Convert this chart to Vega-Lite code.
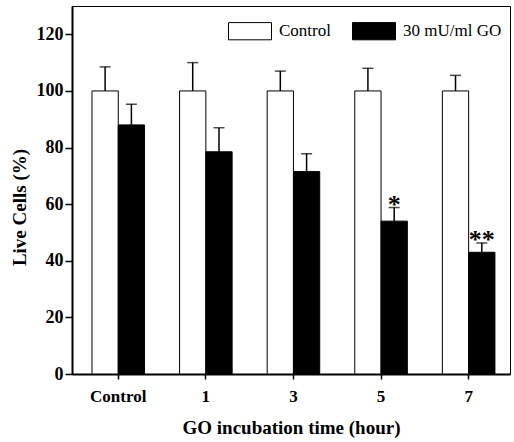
{
  "$schema": "https://vega.github.io/schema/vega-lite/v6.json",
  "autosize": "none",
  "padding": {"left": 72, "top": 6, "right": 4, "bottom": 68},
  "width": 438,
  "height": 368,
  "background": "white",
  "config": {
    "view": {"stroke": "black", "strokeWidth": 1},
    "font": "Liberation Serif",
    "axis": {
      "domainColor": "black", "domainWidth": 2,
      "tickColor": "black", "tickWidth": 1.5,
      "labelColor": "black", "titleColor": "black",
      "labelFont": "Liberation Serif", "titleFont": "Liberation Serif",
      "labelFontWeight": "bold", "titleFontWeight": "bold",
      "grid": false
    }
  },
  "data": {
    "values": [
      {"time": "Control", "group": "Control", "value": 100, "err": 108.5, "sig": ""},
      {"time": "Control", "group": "30 mU/ml GO", "value": 88, "err": 95.3, "sig": ""},
      {"time": "1", "group": "Control", "value": 100, "err": 110, "sig": ""},
      {"time": "1", "group": "30 mU/ml GO", "value": 78.5, "err": 87, "sig": ""},
      {"time": "3", "group": "Control", "value": 100, "err": 107, "sig": ""},
      {"time": "3", "group": "30 mU/ml GO", "value": 71.5, "err": 77.8, "sig": ""},
      {"time": "5", "group": "Control", "value": 100, "err": 108, "sig": ""},
      {"time": "5", "group": "30 mU/ml GO", "value": 54, "err": 58.8, "sig": "*"},
      {"time": "7", "group": "Control", "value": 100, "err": 105.5, "sig": ""},
      {"time": "7", "group": "30 mU/ml GO", "value": 43, "err": 46.3, "sig": "**"}
    ]
  },
  "encoding": {
    "x": {
      "field": "time", "type": "nominal",
      "scale": {"domain": ["Control", "1", "3", "5", "7"], "paddingInner": 0.4, "paddingOuter": 0.2, "align": 0.57},
      "axis": {
        "title": "GO  incubation time (hour)", "labelAngle": 0,
        "labelFontSize": 17, "titleFontSize": 19,
        "tickSize": 5, "labelPadding": 9, "titlePadding": 14
      }
    },
    "xOffset": {
      "field": "group", "type": "nominal",
      "scale": {"domain": ["Control", "30 mU/ml GO"], "paddingInner": 0, "paddingOuter": 0}
    }
  },
  "layer": [
    {
      "mark": {"type": "bar", "stroke": "black", "strokeWidth": 1},
      "encoding": {
        "y": {
          "field": "value", "type": "quantitative",
          "scale": {"domain": [0, 130], "nice": false},
          "axis": {
            "title": "Live Cells (%)",
            "values": [0, 10, 20, 30, 40, 50, 60, 70, 80, 90, 100, 110, 120],
            "labelExpr": "datum.value % 20 == 0 ? datum.label : ''",
            "tickSize": {"condition": {"test": "datum.value % 20 != 0", "value": 4}, "value": 7},
            "labelFontSize": 18, "labelPadding": 2,
            "titleFontSize": 19, "titleX": -47, "titleY": 201,
            "titleBaseline": "alphabetic", "titleAlign": "center", "titleAngle": -90
          }
        },
        "fill": {
          "field": "group", "type": "nominal",
          "scale": {"domain": ["Control", "30 mU/ml GO"], "range": ["white", "black"]},
          "legend": {
            "title": null, "orient": "none", "direction": "horizontal",
            "legendX": 156, "legendY": 3, "padding": 0,
            "symbolType": "M-1,-0.4L1,-0.4L1,0.4L-1,0.4Z",
            "symbolSize": 1849, "symbolStrokeColor": "black", "symbolStrokeWidth": 1,
            "labelFont": "Liberation Serif", "labelFontSize": 17, "labelColor": "black",
            "labelOffset": 7, "columnPadding": 19
          }
        }
      }
    },
    {
      "mark": {"type": "rule", "color": "black", "strokeWidth": 1.5},
      "encoding": {
        "y": {"field": "value", "type": "quantitative"},
        "y2": {"field": "err"}
      }
    },
    {
      "mark": {"type": "tick", "color": "black", "size": 11, "thickness": 1.5},
      "encoding": {
        "y": {"field": "err", "type": "quantitative"}
      }
    },
    {
      "mark": {"type": "text", "font": "Liberation Serif", "fontWeight": "bold", "fontSize": 26, "baseline": "alphabetic", "dy": 5, "color": "black"},
      "encoding": {
        "y": {"field": "err", "type": "quantitative"},
        "text": {"field": "sig"}
      }
    }
  ]
}
